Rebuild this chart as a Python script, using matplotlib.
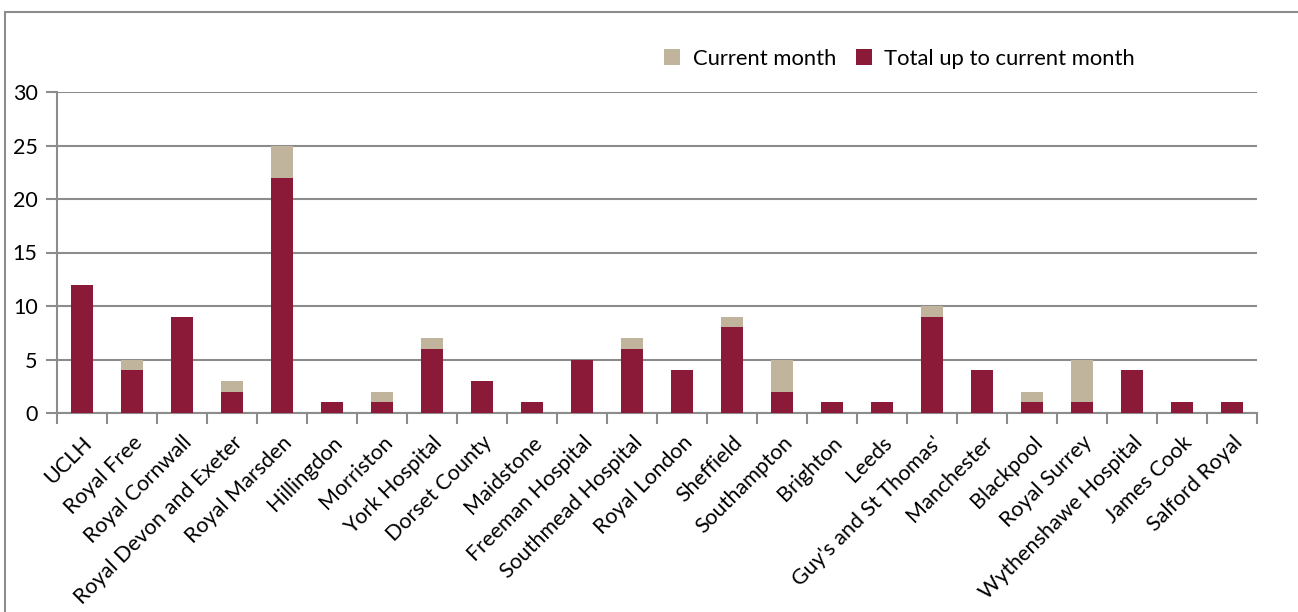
import matplotlib.pyplot as plt
import matplotlib.transforms as mtransforms
import numpy as np
from matplotlib.patches import Rectangle

# data
hospitals = [
    "UCLH", "Royal Free", "Royal Cornwall", "Royal Devon and Exeter",
    "Royal Marsden", "Hillingdon", "Morriston", "York Hospital",
    "Dorset County", "Maidstone", "Freeman Hospital", "Southmead Hospital",
    "Royal London", "Sheffield", "Southampton", "Brighton", "Leeds",
    "Guy's and St Thomas'", "Manchester", "Blackpool", "Royal Surrey",
    "Wythenshawe Hospital", "James Cook", "Salford Royal",
]
total_to_date = [12, 4, 9, 2, 22, 1, 1, 6, 3, 1, 5, 6, 4, 8, 2, 1, 1, 9, 4, 1, 1, 4, 1, 1]
current_month = [0, 1, 0, 1, 3, 0, 1, 1, 0, 0, 0, 1, 0, 1, 3, 0, 0, 1, 0, 1, 4, 0, 0, 0]

RED = "#8B1A38"
TAN = "#C0B49C"
GREY = "#8C8C8C"

plt.rcParams["font.family"] = ["Lato", "DejaVu Sans"]
plt.rcParams["font.size"] = 15.5

fig = plt.figure(figsize=(12.98, 6.12), dpi=100)
W, H = 1298, 612

# outer chart frame (runs off the right and bottom edges)
fig.patches.append(Rectangle((5 / W, -0.2), 1.2, 1 - 12 / H + 0.2,
                             transform=fig.transFigure, fill=False,
                             edgecolor=GREY, linewidth=1.5))

ax = fig.add_axes([57 / W, 1 - 413 / H, 1200 / W, 321 / H])
x = np.arange(len(hospitals))
bw = 0.44
ax.bar(x, total_to_date, width=bw, color=RED, label="Total up to current month", zorder=3)
ax.bar(x, current_month, width=bw, bottom=total_to_date, color=TAN,
       label="Current month", zorder=3)

ax.set_xlim(-0.5, len(hospitals) - 0.5)
ax.set_ylim(0, 30)
ax.set_yticks(range(0, 31, 5))
ax.yaxis.grid(True, color=GREY, linewidth=1.5, zorder=0)

ax.set_xticks(x)
ax.set_xticklabels(hospitals, rotation=45, ha="right", rotation_mode="anchor")
shift = mtransforms.ScaledTranslation(-12 / 100, -2 / 100, fig.dpi_scale_trans)
for lbl in ax.get_xticklabels():
    lbl.set_transform(lbl.get_transform() + shift)
ax.set_xticks(np.arange(-0.5, len(hospitals)), minor=True)
ax.tick_params(axis="x", which="major", length=0, pad=14)
ax.tick_params(axis="x", which="minor", length=8, width=1.5, color=GREY, direction="out")
ax.tick_params(axis="y", length=8, width=1.5, color=GREY, pad=6)

for side in ["top", "right"]:
    ax.spines[side].set_visible(False)
for side in ["left", "bottom"]:
    ax.spines[side].set_color(GREY)
    ax.spines[side].set_linewidth(1.5)

handles, labels = ax.get_legend_handles_labels()
fig.legend(handles[::-1], labels[::-1], loc="center left",
           bbox_to_anchor=(664 / W, 1 - 59 / H), ncol=2, frameon=False,
           fontsize=15.8, handlelength=0.75, handleheight=0.75, handletextpad=0.55,
           columnspacing=0.9, borderaxespad=0, borderpad=0)

fig.savefig("out.png", dpi=100)
